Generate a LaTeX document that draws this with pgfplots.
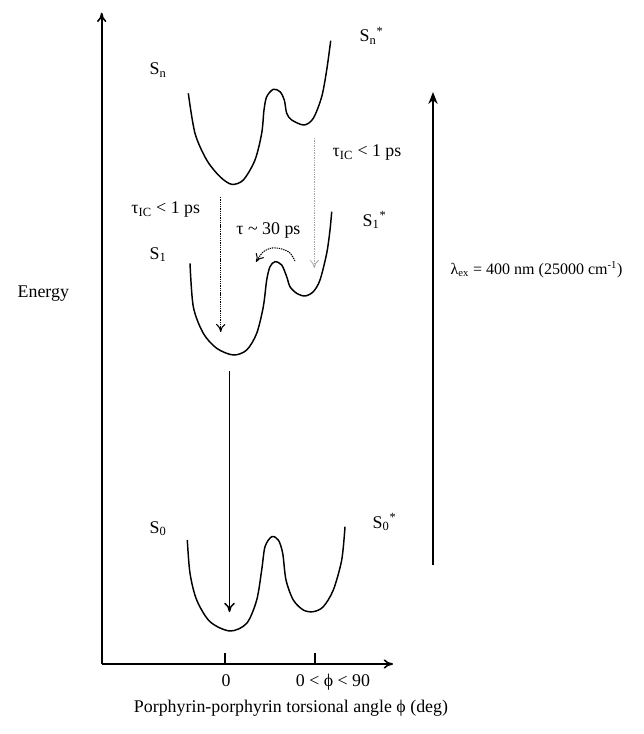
\documentclass[border=0pt]{standalone}
\usepackage{fontspec}
\setmainfont{Liberation Serif}
\usepackage{pgfplots}
\pgfplotsset{compat=1.18}
\usetikzlibrary{arrows.meta}

\begin{document}
\begin{tikzpicture}[font=\fontsize{13.4}{15}\selectfont]
\begin{axis}[
  width=482.25pt, height=550.5pt, scale only axis,
  xmin=0, xmax=643, ymin=0, ymax=734, y dir=reverse,
  axis lines=none, clip=false,
]
% fixed drawing area
\path (axis cs:0,0) rectangle (axis cs:643,734);

% energy and torsion axes
\addplot[black, line width=1.2pt, -{To[length=7pt,width=7pt]}] coordinates {(101.7,664) (101.7,12.7)};
\addplot[black, line width=1.2pt, -{To[length=7pt,width=7pt]}] coordinates {(101.7,664) (393,664)};
\addplot[black, line width=1pt] coordinates {(225,652.7) (225,664)};
\addplot[black, line width=1pt] coordinates {(315,652.7) (315,664)};

% potential energy curves
\addplot[black, line width=1.1pt, smooth] coordinates {
 (188.3,93.3) (195,133.3) (206.7,160) (220,176.7) (231.7,184.3) (243.3,180)
 (255,160) (261.7,133.3) (264,110) (266.7,96.7) (273.3,89.3) (280,91.7)
 (284.3,100) (286.7,113.3) (291.7,120) (304,125) (313.3,118.3) (321.7,96.7)
 (326.7,70) (330.7,40.7)};
\addplot[black, line width=1.1pt, smooth] coordinates {
 (190,263.3) (193.3,306.7) (203.3,333.3) (216.7,348.3) (233.3,355) (246.7,350)
 (256.7,333.3) (263.3,306.7) (266.7,280) (270,266.7) (275,261.7) (281.7,265)
 (286.7,276.7) (290,286.7) (296.7,293.3) (305,296) (313.3,291.7) (320,280)
 (326.7,253.3) (330,230) (331.7,211.7)};
\addplot[black, line width=1.1pt, smooth] coordinates {
 (187.3,540) (190,573.3) (196.7,600) (210,621.7) (230,631) (246.7,623.3)
 (256.7,600) (261.7,570) (265,546.7) (271.7,536.7) (278.3,540) (282.7,553.3)
 (286,580) (293.3,600) (303.3,610) (313.3,611.7) (323.3,606.7) (333.3,590)
 (341.7,560) (345,526.7)};

% transitions
\addplot[black, line width=0.8pt, dash pattern=on 1pt off 0.7pt, -{To[length=6pt,width=7pt]}] coordinates {(220.7,197) (220.7,332)};
\addplot[gray!70, line width=0.6pt, dash pattern=on 1pt off 0.8pt, -{To[length=6pt,width=7pt]}] coordinates {(314.3,138) (314.3,268)};
\addplot[black, line width=1.1pt, -{To[length=7pt,width=8pt]}] coordinates {(229.5,371) (229.5,612)};
\addplot[black, line width=0.8pt, dash pattern=on 1pt off 0.7pt, smooth, -{To[length=6pt,width=7pt]}] coordinates {
 (295,261) (290,253) (282,249) (272,248) (263,252) (256,262)};
\addplot[black, line width=1.2pt, -{Stealth[length=9pt,width=7pt]}] coordinates {(433,565) (433,92)};

% labels
\node[anchor=base west] at (axis cs:145,75) {S\textsubscript{n}};
\node[anchor=base west] at (axis cs:355,42) {S\textsubscript{n}\textsuperscript{*}};
\node[anchor=base west] at (axis cs:328,157) {τ\textsubscript{IC} < 1 ps};
\node[anchor=base west] at (axis cs:126.7,214) {τ\textsubscript{IC} < 1 ps};
\node[anchor=base west] at (axis cs:231.7,234) {τ {\textasciitilde} 30 ps};
\node[anchor=base west] at (axis cs:145,259) {S\textsubscript{1}};
\node[anchor=base west] at (axis cs:358,226) {S\textsubscript{1}\textsuperscript{*}};
\node[anchor=base west] at (axis cs:145,533) {S\textsubscript{0}};
\node[anchor=base west] at (axis cs:368,528) {S\textsubscript{0}\textsuperscript{*}};
\node[anchor=base west] at (axis cs:13,297) {Energy};
\node[anchor=base west, font=\fontsize{12}{14}\selectfont] at (axis cs:446,274) {λ\textsubscript{ex} = 400 nm (25000 cm\textsuperscript{-1})};
\node[anchor=base] at (axis cs:226,686) {0};
\node[anchor=base] at (axis cs:333,686) {0 < ϕ < 90};
\node[anchor=base] at (axis cs:291,712) {Porphyrin-porphyrin torsional angle ϕ (deg)};
\end{axis}
\end{tikzpicture}
\end{document}
